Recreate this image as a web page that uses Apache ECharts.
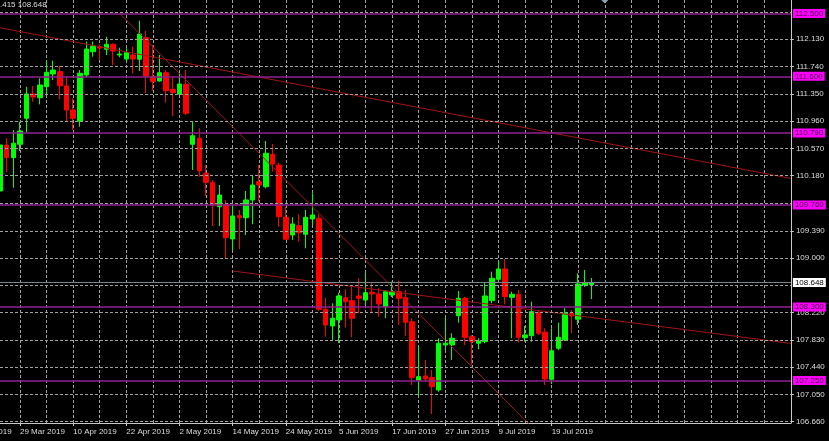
<!DOCTYPE html>
<html><head><meta charset="utf-8">
<script src="https://cdn.jsdelivr.net/npm/echarts@6/dist/echarts.min.js"></script>
<style>html,body{margin:0;padding:0;background:#000;}#c{width:829px;height:441px;}</style>
</head><body><div id="c"></div>
<script>
// ---- categories: trading days shown on the axis ----
const tradingDays = [
  '19 Mar 2019','20 Mar 2019','21 Mar 2019','22 Mar 2019','25 Mar 2019','26 Mar 2019','27 Mar 2019','28 Mar 2019','29 Mar 2019',
  '1 Apr 2019','2 Apr 2019','3 Apr 2019','4 Apr 2019','5 Apr 2019','8 Apr 2019','9 Apr 2019','10 Apr 2019','11 Apr 2019','12 Apr 2019',
  '15 Apr 2019','16 Apr 2019','17 Apr 2019','18 Apr 2019','19 Apr 2019','22 Apr 2019','23 Apr 2019','24 Apr 2019','25 Apr 2019','26 Apr 2019',
  '29 Apr 2019','30 Apr 2019',
  '1 May 2019','2 May 2019','3 May 2019','6 May 2019','7 May 2019','8 May 2019','9 May 2019','10 May 2019','13 May 2019','14 May 2019',
  '15 May 2019','16 May 2019','17 May 2019','20 May 2019','21 May 2019','22 May 2019','23 May 2019','24 May 2019','27 May 2019','28 May 2019',
  '29 May 2019','30 May 2019','31 May 2019',
  '3 Jun 2019','4 Jun 2019','5 Jun 2019','6 Jun 2019','7 Jun 2019','10 Jun 2019','11 Jun 2019','12 Jun 2019','13 Jun 2019','14 Jun 2019',
  '17 Jun 2019','18 Jun 2019','19 Jun 2019','20 Jun 2019','21 Jun 2019','24 Jun 2019','25 Jun 2019','26 Jun 2019','27 Jun 2019','28 Jun 2019',
  '1 Jul 2019','2 Jul 2019','3 Jul 2019','4 Jul 2019','5 Jul 2019','8 Jul 2019','9 Jul 2019','10 Jul 2019','11 Jul 2019','12 Jul 2019',
  '15 Jul 2019','16 Jul 2019','17 Jul 2019','18 Jul 2019','19 Jul 2019','22 Jul 2019','23 Jul 2019','24 Jul 2019','25 Jul 2019','26 Jul 2019',
  '29 Jul 2019'
];
const futureSlots = 30;            // empty bars to the right of the last candle
const labelEvery = 8;              // a date label every 8 bars
const gridEvery = 4;               // a vertical grid line every 4 bars
const firstCandleDay = '26 Mar 2019';

// ---- OHLC values (USDJPY daily) ----
const opens = [109.961,110.618,110.437,110.628,111.000,111.348,111.295,111.452,111.634,111.667,111.462,111.119,110.961,111.619,111.953,112.024,111.987,112.058,111.905,111.848,111.905,111.844,112.153,111.595,111.534,111.652,111.415,111.348,111.486,110.628,110.714,110.214,110.079,109.736,109.770,109.274,109.607,109.578,109.832,110.093,110.022,110.485,110.332,109.584,109.331,109.464,109.341,109.560,109.570,108.269,108.030,108.116,108.434,108.392,108.459,108.401,108.512,108.487,108.306,108.473,108.520,108.434,108.091,107.257,107.315,107.291,107.114,107.758,107.758,108.177,108.426,107.877,107.782,107.805,108.392,108.697,108.845,108.440,108.483,107.863,107.891,108.220,107.940,107.267,107.711,107.830,108.211,108.126,108.616,108.622];
const highs = [110.680,110.714,110.833,110.951,111.452,111.462,111.572,111.824,111.824,111.752,111.595,111.286,111.691,112.096,112.096,112.058,112.167,112.073,112.010,112.001,112.024,112.396,112.249,112.048,111.905,111.691,111.605,111.644,111.691,110.961,110.857,110.332,110.118,110.046,109.832,109.760,109.689,109.960,110.189,110.332,110.675,110.633,110.365,109.736,109.584,109.627,109.689,109.927,109.627,108.434,108.354,108.506,108.555,108.592,108.712,108.792,108.641,108.569,108.544,108.663,108.678,108.544,108.140,107.734,107.544,107.400,107.853,108.148,107.925,108.530,108.449,107.901,107.854,108.641,108.806,108.959,108.983,108.520,108.544,108.030,108.377,108.258,107.997,107.997,108.077,108.283,108.258,108.783,108.831,108.716];
const lows = [109.930,110.228,110.007,110.532,110.800,111.237,111.200,111.333,111.548,111.272,110.961,110.833,110.880,111.581,111.881,111.834,111.905,111.762,111.873,111.810,111.644,111.677,111.358,111.395,111.526,111.223,111.033,111.333,111.047,110.261,110.165,109.889,109.460,109.460,108.998,109.116,109.131,109.331,109.484,109.807,109.999,110.236,109.450,109.260,109.260,109.235,109.141,109.474,108.245,107.877,107.830,107.787,108.011,107.868,108.211,108.330,108.211,108.163,108.140,108.444,108.044,107.887,107.186,107.033,107.233,106.771,107.090,107.686,107.544,108.077,107.758,107.472,107.696,107.782,108.354,108.663,108.340,107.854,107.791,107.805,107.805,107.901,107.186,107.200,107.686,107.815,107.925,108.044,108.588,108.415];
const closes = [110.618,110.437,110.643,110.818,111.348,111.305,111.476,111.658,111.691,111.466,111.119,111.000,111.644,111.991,112.034,112.005,112.058,111.963,111.920,111.938,111.848,112.206,111.605,111.524,111.652,111.395,111.366,111.491,111.072,110.751,110.247,110.085,109.760,109.903,109.292,109.603,109.578,109.832,110.046,110.046,110.500,110.347,109.593,109.270,109.488,109.364,109.584,109.617,108.269,108.044,108.140,108.459,108.377,108.140,108.426,108.506,108.487,108.344,108.520,108.520,108.426,108.083,107.291,107.305,107.272,107.162,107.782,107.782,107.854,108.426,107.868,107.805,107.815,108.459,108.712,108.845,108.449,108.483,107.868,107.901,108.234,107.925,107.272,107.676,107.868,108.211,108.173,108.630,108.649,108.648];

// ---- price scale ----
const yMin = 106.642, yMax = 112.692;
const yTickLabels = [106.66,107.05,107.44,107.83,108.22,109.00,109.39,110.18,110.57,110.96,111.35,111.74,112.13];
const yGridValues = [106.66,107.05,107.44,107.83,108.22,108.61,109.00,109.39,109.78,110.18,110.57,110.96,111.35,111.74,112.13,112.52];

// ---- objects on the chart ----
const levelLines = [112.500,111.600,110.790,109.757,108.296,107.251];
const currentPrice = 108.648;
const trendA = [[5,112.295],[124,110.14]];
const trendB = [[23,112.5],[90,106.11]];
const trendC = [[40,108.816],[124,107.78]];
const alertMarker = [96, 112.692];
const headerText = '.415 108.648';

// ---- build ----
const categories = tradingDays.concat(Array.from({length: futureSlots}, (_, k) => 'future-' + k));
const offset = tradingDays.indexOf(firstCandleDay);
const candleData = opens.map((o, k) => [offset + k, o, closes[k], lows[k], highs[k]]);
const FONT = 'Liberation Sans';
const txt = '#dcdcdc';
const showLabel = (i) => i % labelEvery === 0 && i < tradingDays.length;

const chart = echarts.init(document.getElementById('c'), null, {renderer: 'canvas'});
chart.setOption({
  backgroundColor: '#000000',
  animation: false,
  title: {text: headerText, left: 0, top: 1, padding: 0,
    textStyle: {color: txt, fontSize: 8, fontWeight: 'normal', fontFamily: FONT}},
  grid: {left: 0, right: 38.1, top: 0, bottom: 18},
  xAxis: {
    type: 'category', data: categories, boundaryGap: false,
    min: offset, max: categories.length - 1,
    axisLine: {lineStyle: {color: '#c8c8c8', width: 1}},
    axisTick: {show: true, length: 3, interval: showLabel, lineStyle: {color: '#c8c8c8'}},
    axisLabel: {interval: showLabel, align: 'left', margin: 5,
      color: txt, fontSize: 8, fontFamily: FONT},
    splitLine: {show: true, interval: (i) => i % gridEvery === 0,
      lineStyle: {color: '#a0a0a0', width: 1, type: [3, 2]}}
  },
  yAxis: {
    type: 'value', position: 'right', min: yMin, max: yMax, scale: true,
    axisLine: {show: true, lineStyle: {color: '#c8c8c8', width: 1}},
    axisTick: {show: true, length: 3, customValues: yTickLabels, lineStyle: {color: '#c8c8c8'}},
    axisLabel: {customValues: yTickLabels, formatter: (v) => v.toFixed(3), margin: 5,
      color: txt, fontSize: 8, fontFamily: FONT},
    splitLine: {show: false}
  },
  series: [
    { // horizontal grid lines
      type: 'line', data: [], z: 1, silent: true,
      markLine: {silent: true, symbol: ['none','none'], label: {show: false},
        lineStyle: {color: '#a0a0a0', width: 1, type: [3, 2]},
        data: yGridValues.map(v => ({yAxis: v}))}
    },
    { // current price line
      type: 'line', data: [], z: 2, silent: true,
      markLine: {silent: true, symbol: ['none','none'],
        lineStyle: {color: '#7a8590', width: 1, type: 'solid'},
        label: {show: true, position: 'end', distance: 2, formatter: () => currentPrice.toFixed(3),
          backgroundColor: '#ffffff', color: '#000000', fontSize: 8, fontFamily: FONT,
          lineHeight: 8, padding: [1, 2, 0, 2]},
        data: [{yAxis: currentPrice}]}
    },
    {
      type: 'candlestick', data: candleData, encode: {x: 0, y: [1, 2, 3, 4]},
      barWidth: 5, z: 3, silent: true,
      itemStyle: {color: '#00ff00', color0: '#ff0000', borderColor: '#00ff00', borderColor0: '#ff0000', borderWidth: 1},
      markPoint: {silent: true, symbol: 'diamond', symbolSize: 7, label: {show: false},
        itemStyle: {color: '#8fa3b6'}, data: [{coord: alertMarker}]}
    },
    { // horizontal level lines with price tags
      type: 'line', data: [], z: 5, silent: true,
      markLine: {silent: true, symbol: ['none','none'],
        lineStyle: {color: '#8f228f', width: 1.5, type: 'solid'},
        label: {show: true, position: 'end', distance: 2, formatter: (p) => p.value.toFixed(3),
          backgroundColor: '#ff00ff', color: '#400040', fontSize: 8, fontFamily: FONT,
          lineHeight: 8, padding: [1, 2, 0, 2]},
        data: levelLines.map(v => ({yAxis: v}))}
    },
    ...[trendA, trendB, trendC].map(t => ({
      type: 'line', data: t, z: 4, silent: true, showSymbol: false, clip: true,
      lineStyle: {color: '#a31414', width: 1}
    }))
  ]
});

// date labels whose tick lies left of the visible axis (only their tail shows)
const hiddenLabels = tradingDays.map((d, i) => [d, i]).filter(([d, i]) => showLabel(i) && i < offset);
const axisY = chart.convertToPixel({yAxisIndex: 0}, yMin);
chart.setOption({
  graphic: hiddenLabels.map(([d, i]) => ({
    type: 'text', silent: true,
    x: chart.convertToPixel({xAxisIndex: 0}, i), y: axisY + 5,
    style: {text: d, fill: txt, fontSize: 8, fontFamily: FONT, textAlign: 'left', textVerticalAlign: 'top'}
  }))
});
</script></body></html>
